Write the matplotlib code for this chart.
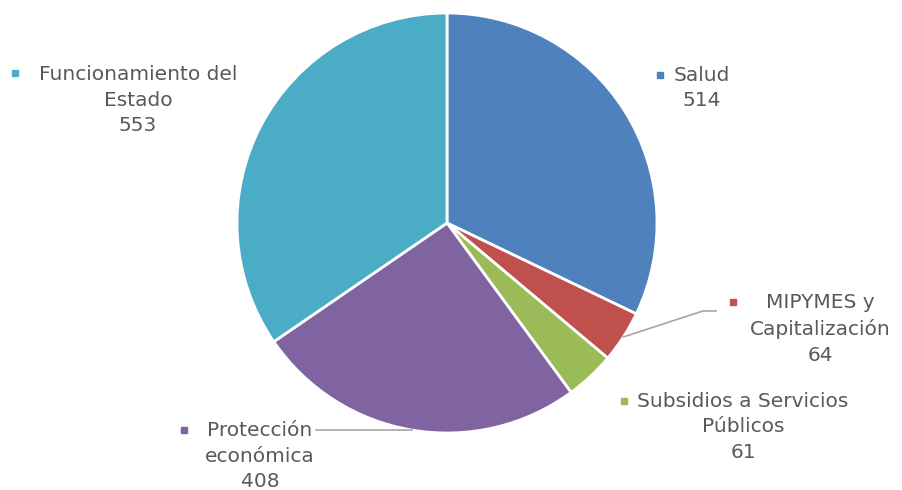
import numpy as np
import matplotlib
matplotlib.use("Agg")
import matplotlib.pyplot as plt

labels = ["Salud", "MIPYMES y\nCapitalización", "Subsidios a Servicios\nPúblicos",
          "Protección\neconómica", "Funcionamiento del\nEstado"]
values = [514, 64, 61, 408, 553]
colors = ["#4F81BD", "#C0504D", "#9BBB59", "#8064A2", "#4BACC6"]

W, H = 903, 490
cx, cy, R = 447, 223, 210

fig = plt.figure(figsize=(W / 100, H / 100), dpi=100)
ax = fig.add_axes([(cx - R) / W, (H - cy - R) / H, 2 * R / W, 2 * R / H])
wedges, _ = ax.pie(values, colors=colors, startangle=90, counterclock=False,
                   radius=1, wedgeprops=dict(edgecolor="white", linewidth=2))
ax.set_xlim(-1, 1)
ax.set_ylim(-1, 1)
ax.set_aspect("equal")
ax.axis("off")


def px(x, y):
    return (x - cx) / R, (cy - y) / R


# label text centres (pixels) and marker spots
label_pos = [(702, 88), (820, 329), (743, 427), (260, 456), (138, 100)]
marker_pos = [(660, 75), (733, 302), (624, 401), (184, 430), (15, 73)]
txt_color = "#595959"

for i, (lab, v) in enumerate(zip(labels, values)):
    tx, ty = px(*label_pos[i])
    ax.text(tx, ty, f"{lab}\n{v}", ha="center", va="center", fontsize=14.5,
            color=txt_color, linespacing=1.45, clip_on=False)
    mx, my = px(*marker_pos[i])
    ax.plot(mx, my, marker="s", ms=5, color=colors[i], clip_on=False)

# leader lines
def edge_point(w):
    ang = np.deg2rad((w.theta1 + w.theta2) / 2)
    return np.cos(ang), np.sin(ang)

x0, y0 = edge_point(wedges[1])
x1, y1 = px(703, 311)
x2, y2 = px(716, 311)
ax.plot([x0, x1, x2], [y0, y1, y2], color="#A6A6A6", lw=1.2, clip_on=False)

x0, y0 = edge_point(wedges[3])
x1, y1 = px(316, 431)
ax.plot([x0, x1], [y0, y0], color="#A6A6A6", lw=1.2, clip_on=False)

fig.savefig("out.png", dpi=100)
